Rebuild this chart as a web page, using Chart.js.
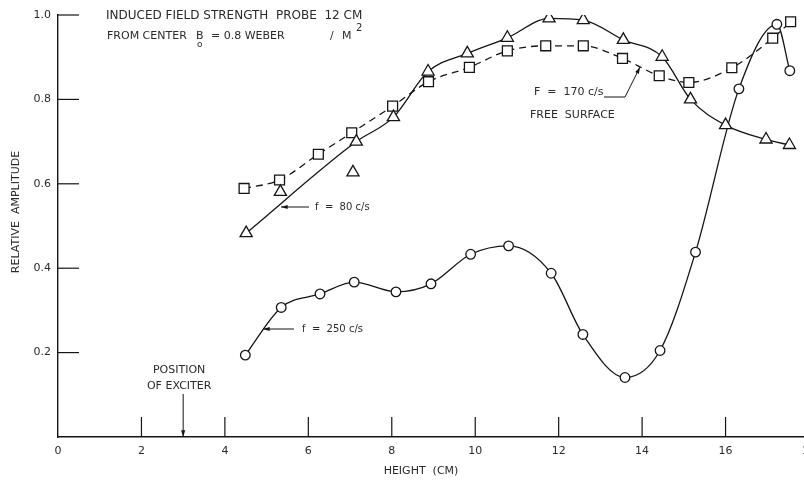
<!DOCTYPE html>
<html>
<head>
<meta charset="utf-8">
<title>Relative amplitude vs height</title>
<script src="https://cdn.jsdelivr.net/npm/chart.js@4/dist/chart.umd.min.js"></script>
<style>
  html, body { margin: 0; padding: 0; background: #fff; overflow: hidden; }
  #wrap { position: absolute; left: 0; top: 0; width: 830px; height: 485px; }
</style>
</head>
<body>
<div id="wrap"><canvas id="my-chart"></canvas></div>
<script>
'use strict';

// axis ticks
let xTicks = [0, 2, 4, 6, 8, 10, 12, 14, 16, 18];
let yTicks = [0, 0.2, 0.4, 0.6, 0.8, 1.0];

// f = 80 c/s (triangles, solid curve)
let h80 = [4.51, 7.15, 8.04, 8.87, 9.81, 10.77, 11.77, 12.59, 13.55, 14.48, 15.16, 16.0, 16.97, 17.53];
let amp80 = [0.483, 0.70, 0.758, 0.866, 0.909, 0.946, 0.992, 0.988, 0.941, 0.901, 0.80, 0.739, 0.705, 0.692];
// two triangles that sit off the curve
let h80Off = [5.33, 7.07];
let amp80Off = [0.581, 0.627];

// F = 170 c/s free surface (squares, dashed curve)
let h170 = [4.46, 5.31, 6.24, 7.04, 8.02, 8.88, 9.86, 10.77, 11.69, 12.59, 13.53, 14.41, 15.12, 16.15, 17.13, 17.56];
let amp170 = [0.589, 0.609, 0.670, 0.721, 0.784, 0.842, 0.876, 0.915, 0.927, 0.927, 0.897, 0.856, 0.840, 0.875, 0.945, 0.984];

// f = 250 c/s (circles, solid curve)
let h250 = [4.49, 5.35, 6.28, 7.10, 8.10, 8.94, 9.89, 10.80, 11.82, 12.58, 13.59, 14.43, 15.28, 16.32, 17.23, 17.54];
let amp250 = [0.194, 0.307, 0.339, 0.367, 0.344, 0.363, 0.433, 0.453, 0.388, 0.243, 0.141, 0.205, 0.438, 0.825, 0.978, 0.868];

let ink = '#151515';
let textInk = '#2a2a2a';
let fontName = '"DejaVu Sans", sans-serif';

function pairs(xs, ys) {
  let out = [];
  for (let i = 0; i < xs.length; i++) {
    out.push({x: xs[i], y: ys[i]});
  }
  return out;
}

function arrow(ctx, x1, y1, x2, y2) {
  // line from (x1,y1) with a small filled head at (x2,y2)
  let ang = Math.atan2(y2 - y1, x2 - x1);
  ctx.beginPath();
  ctx.moveTo(x1, y1);
  ctx.lineTo(x2, y2);
  ctx.stroke();
  ctx.beginPath();
  ctx.moveTo(x2, y2);
  ctx.lineTo(x2 - 7 * Math.cos(ang - 0.3), y2 - 7 * Math.sin(ang - 0.3));
  ctx.lineTo(x2 - 7 * Math.cos(ang + 0.3), y2 - 7 * Math.sin(ang + 0.3));
  ctx.closePath();
  ctx.fill();
}

let notesPlugin = {
  id: 'notes',
  afterDraw(chart) {
    let ctx = chart.ctx;
    let xs = chart.scales.x;
    let ys = chart.scales.y;
    let area = chart.chartArea;
    ctx.save();
    ctx.strokeStyle = ink;
    ctx.fillStyle = ink;
    ctx.lineWidth = 1.2;

    // inward tick marks
    for (let v of xTicks) {
      if (v === 0) continue;
      let px = xs.getPixelForValue(v);
      ctx.beginPath();
      ctx.moveTo(px, area.bottom);
      ctx.lineTo(px, area.bottom - 20);
      ctx.stroke();
    }
    for (let v of yTicks) {
      if (v === 0) continue;
      let py = ys.getPixelForValue(v);
      ctx.beginPath();
      ctx.moveTo(area.left, py);
      ctx.lineTo(area.left + 21, py);
      ctx.stroke();
    }

    ctx.fillStyle = textInk;
    ctx.textBaseline = 'middle';
    ctx.textAlign = 'left';

    // heading
    ctx.font = '12px ' + fontName;
    ctx.fillText('INDUCED FIELD STRENGTH  PROBE  12 CM', 106, 16);
    ctx.font = '11px ' + fontName;
    ctx.fillText('FROM CENTER', 107, 36);
    ctx.fillText('B', 196, 36);
    ctx.fillText('= 0.8 WEBER', 211, 36);
    ctx.fillText('/', 330, 36);
    ctx.fillText('M', 342, 36);
    ctx.font = '9px ' + fontName;
    ctx.fillText('o', 197, 45);
    ctx.font = '10px ' + fontName;
    ctx.fillText('2', 356, 28);

    // series notes
    ctx.font = '10px ' + fontName;
    ctx.fillText('f  =  80 c/s', 315, 207);
    ctx.fillText('f  =  250 c/s', 302, 329);
    ctx.font = '11px ' + fontName;
    ctx.fillText('F  =  170 c/s', 534, 92);
    ctx.fillText('FREE  SURFACE', 530, 115);

    ctx.fillStyle = ink;
    ctx.lineWidth = 1;
    arrow(ctx, 309, 207, 281, 207);
    arrow(ctx, 294, 329, 263, 329);
    ctx.beginPath();
    ctx.moveTo(604, 97);
    ctx.lineTo(625, 97);
    ctx.stroke();
    arrow(ctx, 625, 97, 640, 67);

    // exciter position
    ctx.fillStyle = textInk;
    ctx.font = '11px ' + fontName;
    ctx.textAlign = 'center';
    let ex = xs.getPixelForValue(3);
    ctx.fillText('POSITION', ex - 4, 370);
    ctx.fillText('OF EXCITER', ex - 4, 386);
    ctx.fillStyle = ink;
    arrow(ctx, ex, 394, ex, area.bottom);

    // axis titles
    ctx.fillStyle = textInk;
    ctx.font = '11px ' + fontName;
    ctx.fillText('HEIGHT  (CM)', 421, 471);
    ctx.translate(16, 212);
    ctx.rotate(-Math.PI / 2);
    ctx.fillText('RELATIVE  AMPLITUDE', 0, 0);
    ctx.restore();
  }
};

let canvasElement = document.getElementById('my-chart');

function renderChart() {
  let markerBase = {
    borderColor: ink,
    pointBackgroundColor: '#fff',
    pointBorderColor: ink,
    pointBorderWidth: 1.3,
    borderWidth: 1.3,
    fill: false,
    cubicInterpolationMode: 'monotone'
  };

  let chartObj = {
    type: 'scatter',
    data: {
      datasets: [
        Object.assign({}, markerBase, {
          label: 'f = 80 c/s',
          data: pairs(h80, amp80),
          showLine: true,
          pointStyle: 'triangle',
          pointRadius: 7
        }),
        Object.assign({}, markerBase, {
          label: 'f = 80 c/s (off curve)',
          data: pairs(h80Off, amp80Off),
          showLine: false,
          pointStyle: 'triangle',
          pointRadius: 7
        }),
        Object.assign({}, markerBase, {
          label: 'F = 170 c/s free surface',
          data: pairs(h170, amp170),
          showLine: true,
          borderDash: [7, 5],
          pointStyle: 'rect',
          pointRadius: 7
        }),
        Object.assign({}, markerBase, {
          label: 'f = 250 c/s',
          data: pairs(h250, amp250),
          showLine: true,
          pointStyle: 'circle',
          pointRadius: 4.8
        })
      ]
    },
    options: {
      responsive: true,
      maintainAspectRatio: false,
      animation: false,
      layout: {padding: {top: 15, right: 21, left: 0, bottom: 0}},
      plugins: {
        legend: {display: false},
        tooltip: {enabled: false}
      },
      scales: {
        x: {
          type: 'linear',
          min: 0,
          max: 18,
          afterBuildTicks: (s) => { s.ticks = xTicks.map((v) => ({value: v})); },
          afterFit: (s) => { s.height = 48; },
          grid: {display: false, drawTicks: false},
          border: {display: true, color: ink, width: 1.6},
          ticks: {
            padding: 8,
            color: textInk,
            maxRotation: 0,
            autoSkip: false,
            font: {family: fontName, size: 11}
          }
        },
        y: {
          min: 0,
          max: 1,
          afterBuildTicks: (s) => { s.ticks = yTicks.map((v) => ({value: v})); },
          afterFit: (s) => { s.width = 58; },
          grid: {display: false, drawTicks: false},
          border: {display: true, color: ink, width: 1.4},
          ticks: {
            padding: 7,
            color: textInk,
            font: {family: fontName, size: 11},
            callback: (v) => (v === 0 ? '' : v.toFixed(1))
          }
        }
      }
    },
    plugins: [notesPlugin]
  };
  new Chart(canvasElement, chartObj);//eslint-disable-line
}

renderChart();
</script>
</body>
</html>
